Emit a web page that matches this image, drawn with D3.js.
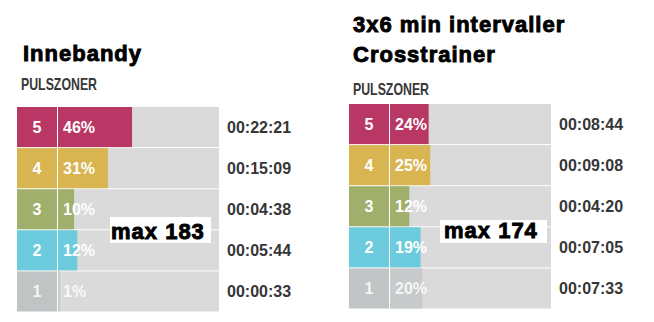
<!DOCTYPE html>
<html><head><meta charset="utf-8">
<script src="https://cdn.jsdelivr.net/npm/d3@7/dist/d3.min.js"></script>
<style>
html,body{margin:0;padding:0;background:#fff;}
svg{display:block;}
</style></head>
<body>
<svg id="c" width="654" height="322"></svg>
<script>
const zones = [5, 4, 3, 2, 1];
const zoneColors = ["#b83765", "#d9b552", "#a0b06c", "#6ccbdc", "#c1c4c5"];
const innebandyPct = [46, 31, 10, 12, 1];
const innebandyTime = ["00:22:21", "00:15:09", "00:04:38", "00:05:44", "00:00:33"];
const crossPct = [24, 25, 12, 19, 20];
const crossTime = ["00:08:44", "00:09:08", "00:04:20", "00:07:05", "00:07:33"];
const titlesLeft = ["Innebandy"];
const titlesRight = ["3x6 min intervaller", "Crosstrainer"];
const maxLeft = "max 183";
const maxRight = "max 174";
const subTitle = "PULSZONER";

const svg = d3.select("#c");
svg.append("rect").attr("width", 654).attr("height", 322).attr("fill", "#fff");

const titleFont = "'Liberation Sans', Arial, sans-serif";

function heavyText(sel) {
  return sel.attr("font-family", titleFont).attr("font-weight", "bold").attr("font-size", 22)
    .attr("letter-spacing", 1).attr("fill", "#000").attr("stroke", "#000").attr("stroke-width", 0.9)
    .attr("paint-order", "stroke");
}

function panel(cfg) {
  const g = svg.append("g");
  const y = d3.scaleBand().domain(zones).range([cfg.top, cfg.top + 204.5]).paddingInner(0.024).paddingOuter(0);
  const x = d3.scaleLinear().domain([0, 100]).range([cfg.barX, cfg.barX + 161]);
  const color = d3.scaleOrdinal().domain(zones).range(zoneColors);

  cfg.titles.forEach((t, i) => {
    heavyText(g.append("text").attr("x", cfg.titleX).attr("y", cfg.titleY + i * 30)).text(t);
  });
  g.append("text").attr("x", cfg.boxX + 4).attr("y", cfg.subY)
    .attr("font-family", titleFont).attr("font-weight", "bold").attr("font-size", 17)
    .attr("textLength", 76).attr("lengthAdjust", "spacingAndGlyphs")
    .attr("fill", "#383838").text(subTitle);

  const rows = g.selectAll("g.row").data(zones.map((z, i) => ({z, pct: cfg.pct[i], time: cfg.time[i]})))
    .enter().append("g").attr("class", "row");

  rows.append("rect").attr("x", cfg.boxX).attr("y", d => y(d.z)).attr("width", cfg.barX - 1 - cfg.boxX)
    .attr("height", y.bandwidth()).attr("fill", d => color(d.z));
  rows.append("rect").attr("x", x(0)).attr("y", d => y(d.z)).attr("width", x(100) - x(0))
    .attr("height", y.bandwidth()).attr("fill", "#dadada");
  rows.append("rect").attr("x", x(0)).attr("y", d => y(d.z)).attr("width", d => Math.max(2, x(d.pct) - x(0)))
    .attr("height", y.bandwidth()).attr("fill", d => d.z === 1 ? "#c8cbcc" : color(d.z));

  const ty = d => y(d.z) + y.bandwidth() / 2 + 6;
  rows.append("text").attr("x", (cfg.boxX + cfg.barX - 1) / 2).attr("y", ty)
    .attr("text-anchor", "middle").attr("font-family", titleFont).attr("font-weight", "bold")
    .attr("font-size", 16).attr("fill", "#fff").attr("fill-opacity", d => d.z === 1 ? 0.85 : 1).text(d => d.z);
  rows.append("text").attr("x", x(0) + 5).attr("y", ty)
    .attr("font-family", titleFont).attr("font-weight", "bold")
    .attr("font-size", 16).attr("fill", "#fff").attr("fill-opacity", d => d.z === 1 ? 0.85 : 1).text(d => d.pct + "%");
  rows.append("text").attr("x", cfg.timeX).attr("y", ty)
    .attr("font-family", titleFont).attr("font-weight", "bold")
    .attr("font-size", 16).attr("fill", "#363636").text(d => d.time);

  g.append("rect").attr("x", cfg.maxBox[0]).attr("y", cfg.maxBox[1]).attr("width", cfg.maxBox[2])
    .attr("height", cfg.maxBox[3]).attr("fill", "#fff");
  heavyText(g.append("text").attr("x", cfg.maxText[0]).attr("y", cfg.maxText[1])).text(cfg.max);
}

panel({
  titles: titlesLeft, titleX: 23, titleY: 61, subY: 89.5,
  top: 107, boxX: 17, barX: 58, timeX: 227,
  pct: innebandyPct, time: innebandyTime,
  maxBox: [110, 217, 101, 26], maxText: [111, 239], max: maxLeft
});
panel({
  titles: titlesRight, titleX: 353, titleY: 32, subY: 94.5,
  top: 104, boxX: 349, barX: 390, timeX: 559,
  pct: crossPct, time: crossTime,
  maxBox: [440, 220, 107, 23], maxText: [444, 238], max: maxRight
});
</script>
</body></html>
